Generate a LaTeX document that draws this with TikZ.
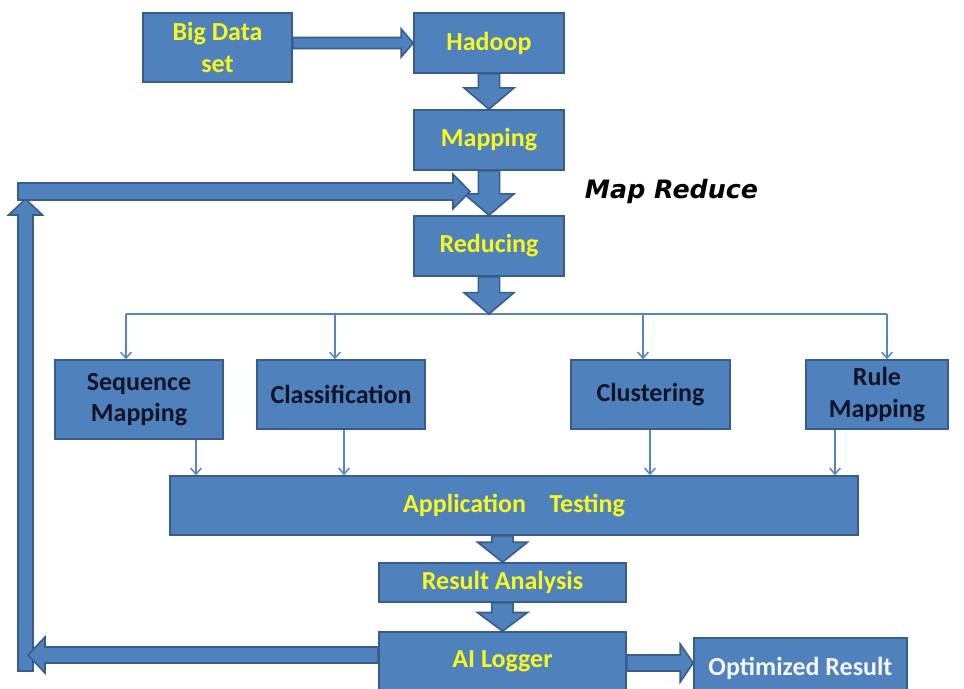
\documentclass[tikz,border=0pt]{standalone}
\usepackage{fontspec}
\setmainfont{Carlito}
\newfontfamily\mrfont{DejaVu Sans}
\usetikzlibrary{calc,arrows.meta}
\definecolor{boxfill}{HTML}{4F81BD}
\definecolor{boxline}{HTML}{385D8A}
\definecolor{txtyel}{HTML}{F8F820}
\definecolor{txtdark}{HTML}{101428}
\definecolor{thinline}{HTML}{5585C2}
\definecolor{txtwhite}{HTML}{F4F6FA}
% block arrow: from, to (tip), half shaft width, half head width, head length
\newcommand\blockarrow[5]{%
  \coordinate (bac) at ($(#2)!#5!(#1)$);
  \filldraw[blk]
    ($(#1)!#3!90:(#2)$) -- ($(bac)!#3!90:(#2)$) -- ($(bac)!#4!90:(#2)$) -- (#2)
    -- ($(bac)!#4!-90:(#2)$) -- ($(bac)!#3!-90:(#2)$) -- ($(#1)!#3!-90:(#2)$) -- cycle;}
\begin{document}
\begin{tikzpicture}[x=0.75pt,y=-0.75pt,
  box/.style={draw=boxline, fill=boxfill, line width=1.2pt, inner sep=0pt, align=center,
    font=\fontsize{19.5}{23.5}\selectfont\bfseries, text=txtyel, line join=miter},
  dark/.style={text=txtdark},
  thin/.style={draw=thinline, line width=1.1pt},
  thinarr/.style={thin, -{Straight Barb[length=4.5pt,width=8pt]}},
  blk/.style={fill=boxfill, draw=boxline, line width=1.2pt, line join=miter}]
\useasboundingbox (0,0) rectangle (964,689);
\clip (0,0) rectangle (964,689);
\fill[white] (0,0) rectangle (964,689);

% boxes
\node[box, minimum width=111.75pt, minimum height=51.75pt] (big) at (217.5,47.5) {Big Data\\set};
\node[box, minimum width=112.5pt, minimum height=45pt] (had) at (489,43) {Hadoop};
\node[box, minimum width=112.5pt, minimum height=45pt] (map) at (489,140) {Mapping};
\node[box, minimum width=112.5pt, minimum height=45pt] (red) at (489,246) {Reducing};
\node[box, dark, minimum width=126pt, minimum height=59.25pt] (seq) at (139,399.5) {Sequence\\Mapping};
\node[box, dark, minimum width=126pt, minimum height=51.75pt] (cls) at (341,394.5) {Classification};
\node[box, dark, minimum width=119.25pt, minimum height=51.75pt] (clu) at (650.5,394.5) {Clustering};
\node[box, dark, minimum width=106.5pt, minimum height=51.75pt] (rule) at (877,394.5) {Rule\\Mapping};
\node[box, minimum width=516pt, minimum height=44.25pt] (app) at (514,505.5) {Application\hspace{0.9em}Testing};
\node[box, minimum width=185.25pt, minimum height=29.25pt] (res) at (502.5,582.5) {Result Analysis};
\node[box, minimum width=185.25pt, minimum height=51pt, text height=12pt, text depth=10.5pt] (ai) at (502.5,666) {AI Logger};
\node[box, text=txtwhite, minimum width=159.75pt, minimum height=46.5pt, text height=14pt, text depth=5pt] (opt) at (800.5,669) {Optimized Result};

% label
\node[anchor=base, inner sep=0pt, font=\mrfont\fontsize{19}{23}\selectfont\bfseries\itshape] (mr) at (671.5,198) {Map Reduce};

% branch lines
\coordinate (b1) at (126,314);
\coordinate (b2) at (335,314);
\coordinate (b3) at (643,314);
\coordinate (b4) at (887,314);
\draw[thin] (b1) -- (b4);
\draw[thinarr] (b1) -- (b1 |- seq.north);
\draw[thinarr] (b2) -- (b2 |- cls.north);
\draw[thinarr] (b3) -- (b3 |- clu.north);
\draw[thinarr] (b4) -- (b4 |- rule.north);
\coordinate (c1) at (196,450);
\coordinate (c2) at (344,450);
\coordinate (c3) at (650,450);
\coordinate (c4) at (835,450);
\draw[thinarr] (c1 |- seq.south) -- (c1 |- app.north);
\draw[thinarr] (c2 |- cls.south) -- (c2 |- app.north);
\draw[thinarr] (c3 |- clu.south) -- (c3 |- app.north);
\draw[thinarr] (c4 |- rule.south) -- (c4 |- app.north);

% block arrows
\coordinate (bigR) at (big.east |- had.west);
\blockarrow{bigR}{had.west}{4.1pt}{10.5pt}{9pt}
\blockarrow{had.south}{map.north}{8pt}{18.75pt}{16pt}
\blockarrow{map.south}{red.north}{8pt}{18.75pt}{16pt}
\coordinate (redT) at (red.south |- b1);
\blockarrow{red.south}{redT}{8pt}{18.75pt}{16pt}
\coordinate (appB) at (app.south -| res.north);
\blockarrow{appB}{res.north}{8pt}{18.75pt}{15pt}
\blockarrow{res.south}{ai.north}{8pt}{18.75pt}{14pt}

\coordinate (aoy) at (0,663);
\coordinate (aiR) at (aoy -| ai.east);
\coordinate (optL) at (aoy -| opt.west);
\blockarrow{aiR}{optL}{6pt}{14.25pt}{9.75pt}

% feedback loop
\coordinate (fbB) at (25.5,671);
\coordinate (fbT) at (25.5,199);
\blockarrow{fbB}{fbT}{5.6pt}{12.75pt}{12pt}
\coordinate (fbL) at (28,655);
\coordinate (aiL) at (fbL -| ai.west);
\blockarrow{aiL}{fbL}{6pt}{13.5pt}{12.75pt}
\coordinate (fbS) at (18,191.5);
\coordinate (fbE) at (470,191.5);
\blockarrow{fbS}{fbE}{6.4pt}{13pt}{12.75pt}
\end{tikzpicture}
\end{document}
